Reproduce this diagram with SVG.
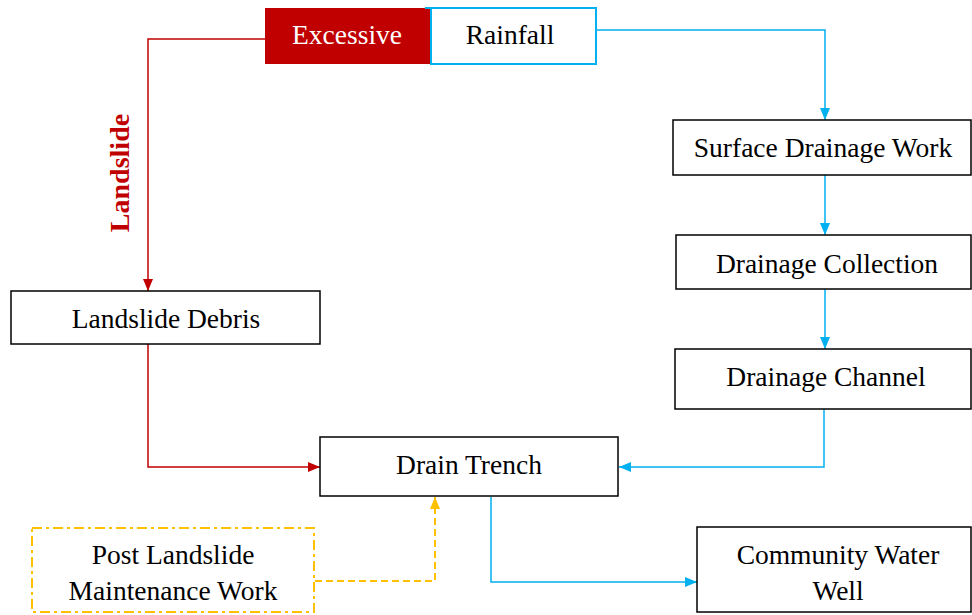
<svg xmlns="http://www.w3.org/2000/svg" width="972" height="615" viewBox="0 0 972 615">
<defs>
<marker id="ab" viewBox="0 0 12 10" refX="12" refY="5" markerWidth="12" markerHeight="10" markerUnits="userSpaceOnUse" orient="auto"><path d="M0,0 L12,5 L0,10 Z" fill="#00B0F0"/></marker>
<marker id="ar" viewBox="0 0 12 10" refX="12" refY="5" markerWidth="12" markerHeight="10" markerUnits="userSpaceOnUse" orient="auto"><path d="M0,0 L12,5 L0,10 Z" fill="#C00000"/></marker>
<marker id="ay" viewBox="0 0 12 10" refX="12" refY="5" markerWidth="12" markerHeight="10" markerUnits="userSpaceOnUse" orient="auto"><path d="M0,0 L12,5 L0,10 Z" fill="#FFC000"/></marker>
</defs>
<style>
.box{fill:#fff;stroke:#000;stroke-width:1.5}
.t{font-family:"Liberation Serif","Times New Roman",serif;font-size:27.5px;fill:#000;text-anchor:middle}
.b{fill:none;stroke:#00B0F0;stroke-width:1.5}
.r{fill:none;stroke:#C00000;stroke-width:1.5}
.y{fill:none;stroke:#FFC000;stroke-width:2;stroke-dasharray:7,4}
</style>
<g id="connectors">
<path class="b" d="M596,30 H825 V120" marker-end="url(#ab)"/>
<path class="b" d="M825,175 V235" marker-end="url(#ab)"/>
<path class="b" d="M825,289 V349" marker-end="url(#ab)"/>
<path class="b" d="M824,409 V467 H619" marker-end="url(#ab)"/>
<path class="b" d="M491,497 V582 H697" marker-end="url(#ab)"/>
<path class="r" d="M265,39 H148 V291" marker-end="url(#ar)"/>
<path class="r" d="M148,344 V467 H320" marker-end="url(#ar)"/>
<path class="y" d="M315,581 H435 V497" marker-end="url(#ay)"/>
<text x="120" y="173" transform="rotate(-90 120 173)" style="font-family:'Liberation Serif','Times New Roman',serif;font-size:28px;font-weight:bold;fill:#C00000;text-anchor:middle" dy="9">Landslide</text>
</g>
<g id="excessive">
<rect x="265" y="8" width="166" height="56" fill="#C00000"/>
<text class="t" x="347" y="44" style="fill:#fff">Excessive</text>
</g>
<g id="rainfall">
<rect x="431" y="8" width="165" height="56" fill="#fff" stroke="#00B0F0" stroke-width="2"/>
<line x1="425" y1="8" x2="431" y2="8" stroke="#00B0F0" stroke-width="2"/>
<text class="t" x="510" y="44">Rainfall</text>
</g>
<g id="surface">
<rect class="box" x="673" y="120" width="298" height="55"/>
<text class="t" x="823" y="157">Surface Drainage Work</text>
</g>
<g id="collection">
<rect class="box" x="676" y="235" width="295" height="54"/>
<text class="t" x="827" y="273">Drainage Collection</text>
</g>
<g id="channel">
<rect class="box" x="675" y="349" width="296" height="60"/>
<text class="t" x="826" y="386">Drainage Channel</text>
</g>
<g id="debris">
<rect class="box" x="11" y="291" width="309" height="53"/>
<text class="t" x="166" y="328">Landslide Debris</text>
</g>
<g id="trench">
<rect class="box" x="320" y="437" width="298" height="59"/>
<text class="t" x="469" y="474">Drain Trench</text>
</g>
<g id="well">
<rect class="box" x="697" y="527" width="274" height="85"/>
<text class="t" x="838" y="564">Community Water</text>
<text class="t" x="838" y="600">Well</text>
</g>
<g id="post">
<rect x="32" y="528" width="282" height="84" fill="none" stroke="#FFC000" stroke-width="2" stroke-dasharray="10,4,3,4"/>
<text class="t" x="173" y="564">Post Landslide</text>
<text class="t" x="173" y="600">Maintenance Work</text>
</g>
</svg>
